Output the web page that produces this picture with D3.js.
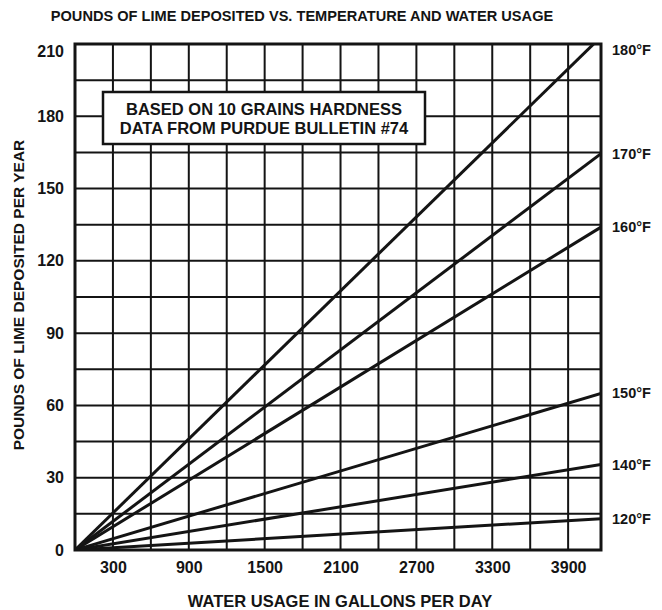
<!DOCTYPE html>
<html><head><meta charset="utf-8">
<script src="https://cdn.jsdelivr.net/npm/d3@7"></script>
<style>body{margin:0;background:#fff}svg{display:block}</style>
</head><body><svg id="c" width="662" height="610"></svg>
<script>
// ---- data ----
const waterUsage = [0, 4160];
const temperatures = ["120°F", "140°F", "150°F", "160°F", "170°F", "180°F"];
const lime120 = [0, 13];
const lime140 = [0, 35.5];
const lime150 = [0, 65];
const lime160 = [0, 134];
const lime170 = [0, 164.5];
const lime180 = [0, 213];
const xTickLabels = [300, 900, 1500, 2100, 2700, 3300, 3900];
const yTickLabels = [0, 30, 60, 90, 120, 150, 180, 210];
const xGridValues = [300, 600, 900, 1200, 1500, 1800, 2100, 2400, 2700, 3000, 3300, 3600, 3900];
const yGridValues = [15, 30, 45, 60, 75, 90, 105, 120, 135, 150, 165, 180, 195];
const title = "POUNDS OF LIME DEPOSITED VS. TEMPERATURE AND WATER USAGE";
const xTitle = "WATER USAGE IN GALLONS PER DAY";
const yTitle = "POUNDS OF LIME DEPOSITED PER YEAR";
const noteLines = ["BASED ON 10 GRAINS HARDNESS", "DATA FROM PURDUE BULLETIN #74"];

const seriesValues = [lime120, lime140, lime150, lime160, lime170, lime180];

// ---- layout ----
const L = 75, R = 601, T = 44, B = 550;
const ink = "#141414";
const font = "'Liberation Sans', Arial, Helvetica, sans-serif";

const x = d3.scaleLinear().domain([0, 4160]).range([L, R]);
const y = d3.scaleLinear().domain([0, 210]).range([B, T]);

const svg = d3.select("#c");
svg.append("rect").attr("width", 662).attr("height", 610).attr("fill", "#fff");

svg.append("defs").append("clipPath").attr("id", "plot")
  .append("rect").attr("x", L).attr("y", T).attr("width", R - L).attr("height", B - T);

// grid
const g = svg.append("g");
g.selectAll(".vg").data(xGridValues).join("line")
  .attr("x1", d => x(d)).attr("x2", d => x(d)).attr("y1", T).attr("y2", B)
  .attr("stroke", ink).attr("stroke-width", 2);
g.selectAll(".hg").data(yGridValues).join("line")
  .attr("x1", L).attr("x2", R).attr("y1", d => y(d)).attr("y2", d => y(d))
  .attr("stroke", ink).attr("stroke-width", 2);

// series lines
const line = d3.line().x((d, i) => x(waterUsage[i])).y(d => y(d));
svg.append("g").attr("clip-path", "url(#plot)")
  .selectAll("path").data(seriesValues).join("path")
  .attr("d", d => line(d)).attr("fill", "none")
  .attr("stroke", ink).attr("stroke-width", 3);

// frame
svg.append("rect").attr("x", L).attr("y", T).attr("width", R - L).attr("height", B - T)
  .attr("fill", "none").attr("stroke", ink).attr("stroke-width", 3);

// note box
const nb = svg.append("g");
nb.append("rect").attr("x", 103).attr("y", 92).attr("width", 322).attr("height", 52)
  .attr("fill", "#fff").attr("stroke", ink).attr("stroke-width", 2.5);
nb.selectAll("text").data(noteLines).join("text")
  .attr("x", 264).attr("y", (d, i) => 115 + i * 19)
  .attr("text-anchor", "middle").attr("font-family", font).attr("font-weight", "bold")
  .attr("font-size", 16.5).attr("fill", ink).text(d => d);

// axes labels (ticks)
const xAxis = d3.axisBottom(x).tickValues(xTickLabels).tickSize(0).tickPadding(12)
  .tickFormat(d3.format("d"));
const xa = svg.append("g").attr("transform", `translate(0,${B})`).call(xAxis);
xa.select(".domain").remove();
xa.selectAll("text").attr("font-family", font).attr("font-weight", "bold")
  .attr("font-size", 16).attr("fill", ink);

const yAxis = d3.axisLeft(y).tickValues(yTickLabels).tickSize(0).tickPadding(11)
  .tickFormat(d3.format("d"));
const ya = svg.append("g").attr("transform", `translate(${L},0)`).call(yAxis);
ya.select(".domain").remove();
ya.selectAll("text").attr("font-family", font).attr("font-weight", "bold")
  .attr("font-size", 16).attr("fill", ink);
ya.selectAll(".tick").filter(d => d === 210).select("text").attr("y", 7);

// right-side temperature labels
svg.append("g").selectAll("text").data(seriesValues).join("text")
  .attr("x", 612)
  .attr("y", d => Math.max(y(Math.min(d[1], 210)), T + 6))
  .attr("dy", "0.35em")
  .attr("font-family", font).attr("font-weight", "bold").attr("font-size", 14.5)
  .attr("fill", ink).text((d, i) => temperatures[i]);

// titles
svg.append("text").attr("x", 302).attr("y", 21).attr("text-anchor", "middle")
  .attr("font-family", font).attr("font-weight", "bold").attr("font-size", 14.6)
  .attr("fill", ink).text(title);
svg.append("text").attr("x", 340).attr("y", 607).attr("text-anchor", "middle")
  .attr("font-family", font).attr("font-weight", "bold").attr("font-size", 16.5)
  .attr("fill", ink).text(xTitle);
svg.append("text").attr("transform", "translate(24,295) rotate(-90)").attr("text-anchor", "middle")
  .attr("font-family", font).attr("font-weight", "bold").attr("font-size", 15.5)
  .attr("fill", ink).text(yTitle);
</script></body></html>
